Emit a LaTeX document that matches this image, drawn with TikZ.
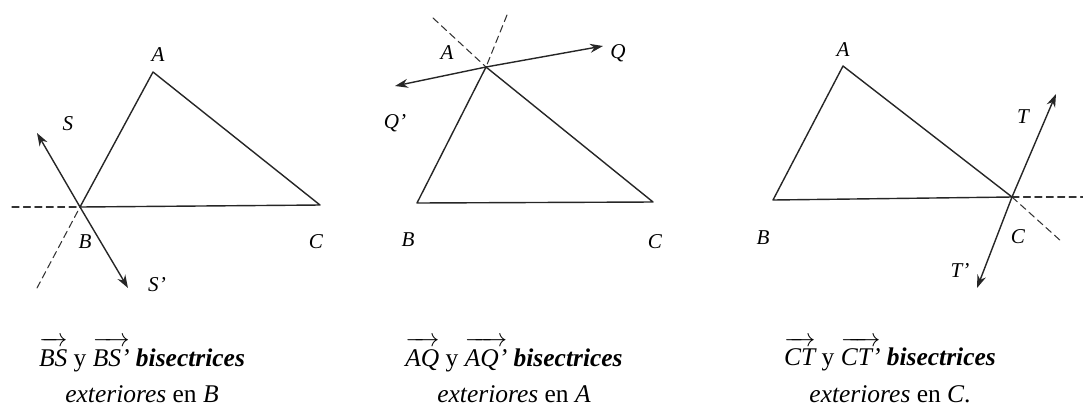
\documentclass[tikz,border=0pt]{standalone}
\usepackage{amsmath}
\usepackage{fontspec}
\setmainfont{Liberation Serif}
\usetikzlibrary{arrows.meta, positioning, calc}
\tikzset{every path/.style={line cap=round, line join=round}, >={Stealth[length=2.6mm, width=1.8mm]}}
\newcommand{\rayname}[1]{$\overrightarrow{\rule{0pt}{0.78em}\textit{#1}}$}

\begin{document}
\begin{tikzpicture}[
    font=\fontsize{12}{14}\selectfont,
    side/.style={draw=black!85, line width=0.8pt},
    ray/.style={->, draw=black!85, line width=0.8pt},
    ext/.style={draw=black!80, line width=0.6pt, dash pattern=on 4pt off 2.5pt},
    vlabel/.style={font=\fontsize{12}{14}\selectfont\itshape, inner sep=1pt},
    caption/.style={align=center, inner sep=1pt, font=\fontsize{14.5}{21}\selectfont}
]
\useasboundingbox (0,0) rectangle (21.66,-8.22);

% exterior bisectors at B
\coordinate (A1) at (3.06,-1.44);
\coordinate (B1) at (1.60,-4.14);
\coordinate (C1) at (6.40,-4.10);
\coordinate (H1) at (0.24,-4.14);
\coordinate (E1) at (0.74,-5.76);
\coordinate (S1) at (0.74,-2.66);
\coordinate (S1p) at (2.56,-5.76);

\draw[side] (A1) -- (B1) -- (C1) -- cycle;
\draw[ext] (H1) -- (B1);
\draw[ext] (E1) -- (B1);
\draw[ray] (B1) -- (S1);
\draw[ray] (B1) -- (S1p);

\node[vlabel] (labA1) at (3.16,-1.10) {A};
\node[vlabel] (labS1) at (1.36,-2.48) {S};
\node[vlabel] (labB1) at (1.70,-4.84) {B};
\node[vlabel] (labC1) at (6.32,-4.84) {C};
\node[vlabel] (labS1p) at (3.14,-5.70) {S'};

\node[caption] (cap1) at (2.84,-7.40)
{\rayname{BS} y \rayname{BS'} \textbf{\textit{bisectrices}}\\\textit{exteriores} en \textit{B}};

% exterior bisectors at A
\coordinate (A2) at (9.72,-1.34);
\coordinate (B2) at (8.34,-4.06);
\coordinate (C2) at (13.06,-4.04);
\coordinate (E2a) at (8.66,-0.36);
\coordinate (E2b) at (10.14,-0.30);
\coordinate (Q2) at (12.06,-0.92);
\coordinate (Q2p) at (7.90,-1.72);

\draw[side] (A2) -- (B2) -- (C2) -- cycle;
\draw[ext] (E2a) -- (A2);
\draw[ext] (E2b) -- (A2);
\draw[ray] (A2) -- (Q2);
\draw[ray] (A2) -- (Q2p);

\node[vlabel] (labA2) at (8.94,-1.06) {A};
\node[vlabel] (labQ2) at (12.36,-1.06) {Q};
\node[vlabel] (labQ2p) at (7.90,-2.46) {Q'};
\node[vlabel] (labB2) at (8.16,-4.80) {B};
\node[vlabel] (labC2) at (13.10,-4.84) {C};

\node[caption] (cap2) at (10.28,-7.40)
{\rayname{AQ} y \rayname{AQ'} \textbf{\textit{bisectrices}}\\\textit{exteriores} en \textit{A}};

% exterior bisectors at C
\coordinate (A3) at (16.86,-1.32);
\coordinate (B3) at (15.46,-4.00);
\coordinate (C3) at (20.24,-3.94);
\coordinate (H3) at (21.66,-3.94);
\coordinate (E3) at (21.24,-4.84);
\coordinate (T3) at (21.12,-1.88);
\coordinate (T3p) at (19.54,-5.76);

\draw[side] (A3) -- (B3) -- (C3) -- cycle;
\draw[ext] (C3) -- (H3);
\draw[ext] (C3) -- (E3);
\draw[ray] (C3) -- (T3);
\draw[ray] (C3) -- (T3p);

\node[vlabel] (labA3) at (16.86,-1.00) {A};
\node[vlabel] (labT3) at (20.46,-2.34) {T};
\node[vlabel] (labB3) at (15.26,-4.76) {B};
\node[vlabel] (labC3) at (20.36,-4.74) {C};
\node[vlabel] (labT3p) at (19.20,-5.40) {T'};

\node[caption] (cap3) at (17.80,-7.40)
{\rayname{CT} y \rayname{CT'} \textbf{\textit{bisectrices}}\\\textit{exteriores} en \textit{C}.};

\end{tikzpicture}
\end{document}
